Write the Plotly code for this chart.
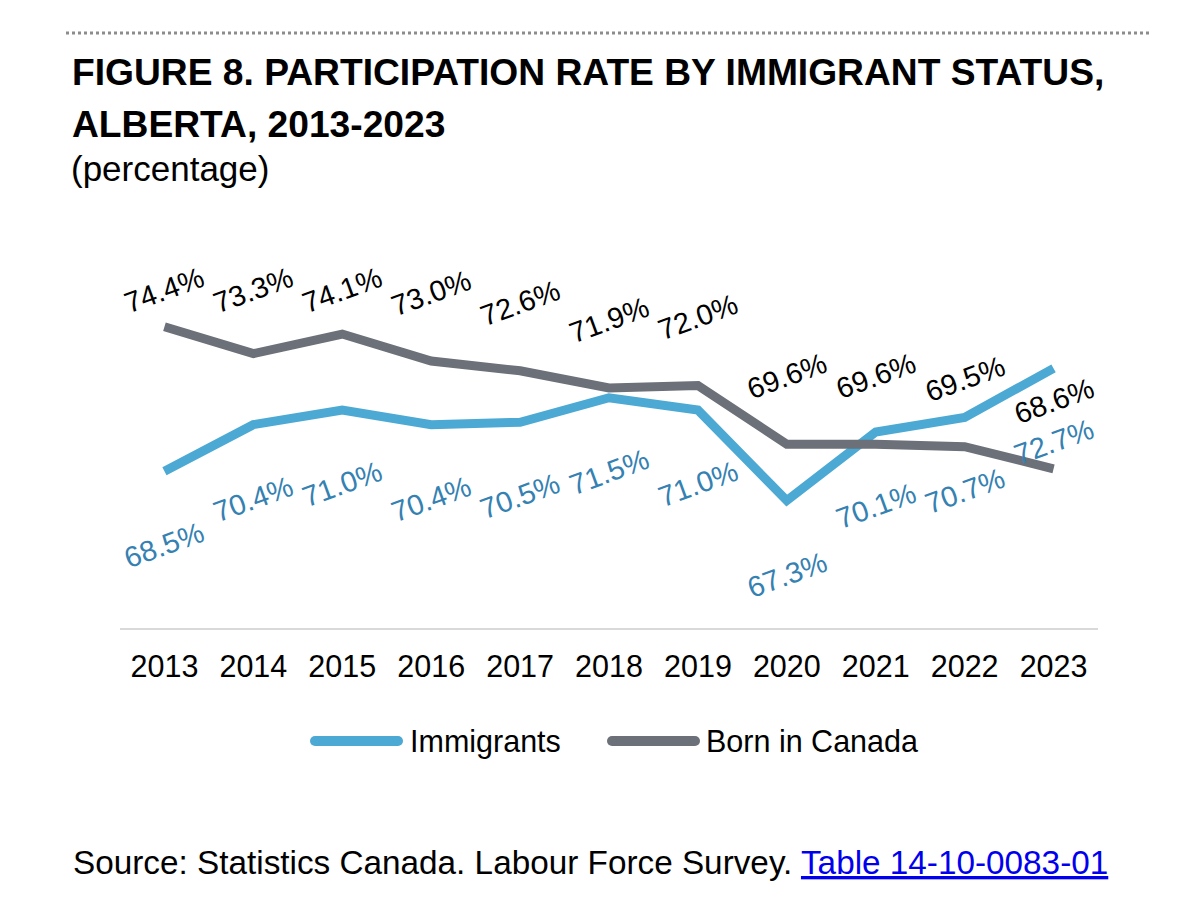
import plotly.graph_objects as go

# ---- data ----
years = ["2013", "2014", "2015", "2016", "2017", "2018", "2019", "2020", "2021", "2022", "2023"]
immigrants = [68.5, 70.4, 71.0, 70.4, 70.5, 71.5, 71.0, 67.3, 70.1, 70.7, 72.7]
born_in_canada = [74.4, 73.3, 74.1, 73.0, 72.6, 71.9, 72.0, 69.6, 69.6, 69.5, 68.6]
series_names = ["Immigrants", "Born in Canada"]

title_line1 = "FIGURE 8. PARTICIPATION RATE BY IMMIGRANT STATUS,"
title_line2 = "ALBERTA, 2013-2023"
subtitle = "(percentage)"
source_text = "Source: Statistics Canada. Labour Force Survey. "
source_link = "Table 14-10-0083-01"

# ---- styling / geometry ----
W, H = 1200, 918
OFF = 8  # page body margin
ML, MR, MT, MB = 120, 102, 263, 290
PW = W - ML - MR
PH = H - MT - MB
Y0, Y1 = 62.1, 77.0
PX_PER_UNIT = PH / (Y1 - Y0)

BLUE = "#4BA9D4"
BLUE_TXT = "#3481B2"
GREY = "#6B7079"
FONT = "Liberation Sans, Arial, sans-serif"


def px_x(p):
    return (p - ML) / PW


def px_y(p):
    return (H - MB - p) / PH


fig = go.Figure()
fig.add_trace(go.Scatter(x=years, y=immigrants, mode="lines", name=series_names[0],
                         line=dict(color=BLUE, width=9), showlegend=False))
fig.add_trace(go.Scatter(x=years, y=born_in_canada, mode="lines", name=series_names[1],
                         line=dict(color=GREY, width=9), showlegend=False))

annotations = []
label_cap = Y0 + (H - MB - 290) / PX_PER_UNIT
for i, v in enumerate(born_in_canada):
    annotations.append(dict(x=i, y=min(v + 68 / PX_PER_UNIT, label_cap), xref="x", yref="y",
                            text=f"{v:.1f}%", showarrow=False, textangle=-20,
                            xanchor="center", yanchor="middle",
                            font=dict(family=FONT, size=29, color="#000000")))
for i, v in enumerate(immigrants):
    annotations.append(dict(x=i, y=v - 74 / PX_PER_UNIT, xref="x", yref="y",
                            text=f"{v:.1f}%", showarrow=False, textangle=-20,
                            xanchor="center", yanchor="middle",
                            font=dict(family=FONT, size=29, color=BLUE_TXT)))

# titles
annotations.append(dict(x=px_x(70), y=px_y(72), xref="paper", yref="paper", text=f"<b>{title_line1}</b>",
                        showarrow=False, xanchor="left", yanchor="middle",
                        font=dict(family=FONT, size=37.2, color="#000000")))
annotations.append(dict(x=px_x(70), y=px_y(124), xref="paper", yref="paper", text=f"<b>{title_line2}</b>",
                        showarrow=False, xanchor="left", yanchor="middle",
                        font=dict(family=FONT, size=37.2, color="#000000")))
annotations.append(dict(x=px_x(69), y=px_y(168), xref="paper", yref="paper", text=subtitle,
                        showarrow=False, xanchor="left", yanchor="middle",
                        font=dict(family=FONT, size=35, color="#000000")))

# legend (custom)
annotations.append(dict(x=px_x(408), y=px_y(741), xref="paper", yref="paper", text=series_names[0],
                        showarrow=False, xanchor="left", yanchor="middle",
                        font=dict(family=FONT, size=30.5, color="#000000")))
annotations.append(dict(x=px_x(704), y=px_y(741), xref="paper", yref="paper", text=series_names[1],
                        showarrow=False, xanchor="left", yanchor="middle",
                        font=dict(family=FONT, size=30.5, color="#000000")))

# source
annotations.append(dict(x=px_x(71), y=px_y(862), xref="paper", yref="paper",
                        text=source_text + f"<span style='color:#0000EE'><u>{source_link}</u></span>",
                        showarrow=False, xanchor="left", yanchor="middle",
                        font=dict(family=FONT, size=33.3, color="#000000")))

shapes = [
    dict(type="line", xref="paper", yref="paper", x0=px_x(66), x1=px_x(1150), y0=px_y(33), y1=px_y(33),
         line=dict(color="#8C8C8C", width=3, dash="dot")),
]
# legend line samples with rounded ends
for (xa, xb), col in [((315, 398), BLUE), ((612, 695), GREY)]:
    shapes.append(dict(type="line", xref="paper", yref="paper", x0=px_x(xa), x1=px_x(xb),
                       y0=px_y(741), y1=px_y(741), line=dict(color=col, width=10)))
    for xe in (xa, xb):
        shapes.append(dict(type="circle", xref="paper", yref="paper", xsizemode="pixel", ysizemode="pixel",
                           xanchor=px_x(xe), yanchor=px_y(741), x0=-5, x1=5, y0=-5, y1=5,
                           fillcolor=col, line=dict(width=0)))

fig.update_layout(
    width=W, height=H,
    margin=dict(l=ML - OFF, r=MR + OFF, t=MT - OFF, b=MB + OFF),
    paper_bgcolor="white", plot_bgcolor="white",
    showlegend=False,
    annotations=annotations,
    shapes=shapes,
    xaxis=dict(type="category", range=[-0.5, len(years) - 0.5], showline=True, linecolor="#D9D9D9",
               linewidth=2, showgrid=False, ticks="", zeroline=False,
               tickfont=dict(family=FONT, size=30.5, color="#000000"), ticklabelstandoff=10),
    yaxis=dict(range=[Y0, Y1], visible=False, showgrid=False, zeroline=False),
)

fig.write_html("out.html")
